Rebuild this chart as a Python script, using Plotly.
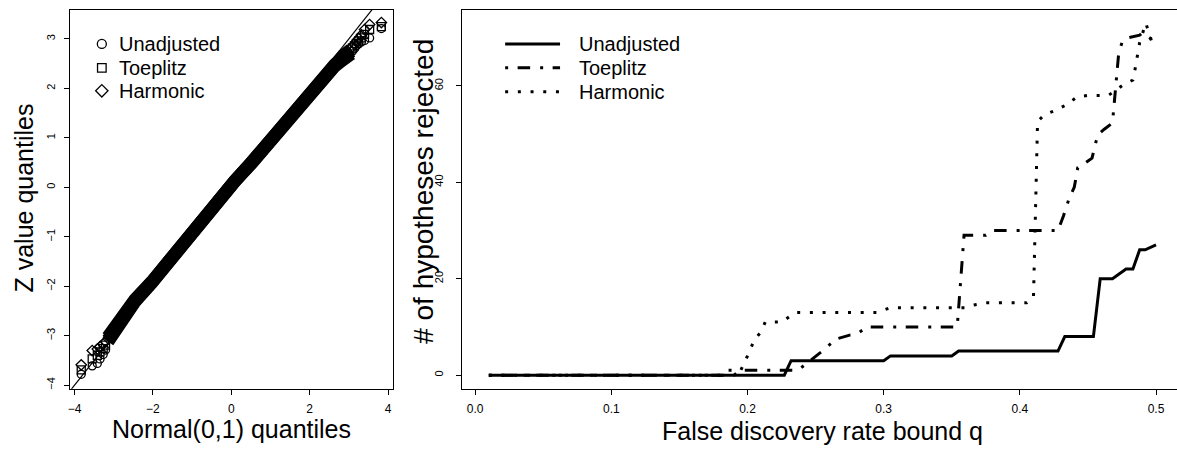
import plotly.graph_objects as go

W, H = 1177, 450
FONT = "Liberation Sans, Arial, Helvetica, sans-serif"

# ---------------- Left panel: QQ plot data ----------------
ref_line = [-4.3, 4.3]  # y = x reference line

band_q = [-3.15, -2.88, -2.46, -2.03, -1.60, -1.18, -0.76, -0.33, 0.09, 0.52,
          0.94, 1.37, 1.79, 2.22, 2.64, 2.85, 3.06]
band_unadj = [-3.12, -2.78, -2.31, -1.93, -1.50, -1.06, -0.65, -0.28, 0.12, 0.49,
              0.89, 1.30, 1.72, 2.12, 2.45, 2.58, 2.70]
band_toep = [-3.08, -2.76, -2.29, -1.92, -1.49, -1.05, -0.645, -0.28, 0.13, 0.50,
             0.90, 1.31, 1.74, 2.14, 2.48, 2.62, 2.75]
band_harm = [-3.03, -2.72, -2.27, -1.91, -1.48, -1.04, -0.64, -0.27, 0.13, 0.51,
             0.91, 1.32, 1.75, 2.16, 2.51, 2.66, 2.79]

tail_lo_q = [-3.83, -3.55, -3.42, -3.35, -3.27, -3.21]
lo_unadj = [-3.78, -3.61, -3.56, -3.47, -3.38, -3.29]
lo_toep = [-3.69, -3.47, -3.40, -3.33, -3.26, -3.19]
lo_harm = [-3.59, -3.30, -3.27, -3.22, -3.17, -3.12]

tail_hi_q = [3.09, 3.14, 3.19, 3.25, 3.32, 3.40, 3.53, 3.83]
hi_unadj = [2.75, 2.80, 2.86, 2.90, 2.94, 2.97, 3.02, 3.21]
hi_toep = [2.82, 2.86, 2.91, 2.96, 3.02, 3.09, 3.19, 3.25]
hi_harm = [2.84, 2.89, 2.95, 3.01, 3.08, 3.19, 3.29, 3.33]

left_xticks = [-4, -2, 0, 2, 4]
left_yticks = [-4, -3, -2, -1, 0, 1, 2, 3]

# ---------------- Right panel: rejections vs FDR bound ----
q_unadj = [0.01, 0.227, 0.232, 0.300, 0.305, 0.350, 0.355, 0.428, 0.433, 0.454,
           0.459, 0.468, 0.478, 0.483, 0.488, 0.492, 0.500]
n_unadj = [0, 0, 3, 3, 4, 4, 5, 5, 8, 8, 20, 20, 22, 22, 26, 26, 27]

q_toep = [0.01, 0.190, 0.195, 0.237, 0.255, 0.265, 0.275, 0.280, 0.288, 0.354,
          0.359, 0.375, 0.380, 0.428, 0.432, 0.436, 0.440, 0.4425, 0.448, 0.453,
          0.456, 0.458, 0.462, 0.468, 0.4695, 0.4725, 0.475, 0.480, 0.488, 0.490,
          0.500]
n_toep = [0, 0, 1, 1, 5, 7.5, 8.3, 8.5, 10, 10,
          29, 29, 30, 30, 33, 36.5, 39, 43, 44, 45,
          48.5, 50, 51, 52.3, 57, 66.5, 69, 70, 70.5, 71,
          69]

q_harm = [0.01, 0.180, 0.185, 0.195, 0.200, 0.205, 0.210, 0.213, 0.225, 0.235,
          0.295, 0.300, 0.305, 0.360, 0.365, 0.375, 0.405, 0.410, 0.413, 0.418,
          0.427, 0.435, 0.442, 0.450, 0.465, 0.475, 0.483, 0.484, 0.488, 0.4925,
          0.497, 0.500]
n_harm = [0, 0, 1, 1, 4, 7.3, 9, 11, 11, 13,
          13, 13.5, 14, 14, 14.5, 15, 15, 16, 52.6, 54,
          55, 56.2, 57.7, 58, 58, 60, 61.2, 62.5, 69, 73,
          69, 69]

right_xticks = [0.0, 0.1, 0.2, 0.3, 0.4, 0.5]
right_xticktext = ["0.0", "0.1", "0.2", "0.3", "0.4", "0.5"]
right_yticks = [0, 20, 40, 60]

series_names = ["Unadjusted", "Toeplitz", "Harmonic"]


def px(xp):
    return xp / W


def py(yp):
    return 1 - yp / H


fig = go.Figure()

# ---- left panel traces ----
fig.add_trace(go.Scatter(x=ref_line, y=ref_line, mode="lines",
                         line=dict(color="black", width=1.2),
                         xaxis="x", yaxis="y", showlegend=False, hoverinfo="skip"))
for band in (band_unadj, band_toep, band_harm):
    fig.add_trace(go.Scatter(x=band_q, y=band, mode="lines",
                             line=dict(color="black", width=13),
                             xaxis="x", yaxis="y", showlegend=False, hoverinfo="skip"))
symbols = ["circle-open", "square-open", "diamond-open"]
for lo, hi, sym, name in zip((lo_unadj, lo_toep, lo_harm), (hi_unadj, hi_toep, hi_harm),
                             symbols, series_names):
    fig.add_trace(go.Scatter(x=tail_lo_q + tail_hi_q, y=lo + hi, mode="markers",
                             marker=dict(symbol=sym, size=8, color="black",
                                         line=dict(width=1.3, color="black")),
                             xaxis="x", yaxis="y", name=name, showlegend=False))

# ---- right panel traces ----
dashes = ["solid", "3px,9.5px,12.5px,10px", "3px,9.7px"]
for qx, ny, name, d in zip((q_unadj, q_toep, q_harm), (n_unadj, n_toep, n_harm),
                           series_names, dashes):
    fig.add_trace(go.Scatter(x=qx, y=ny, mode="lines", name=name,
                             line=dict(color="black", width=3, dash=d),
                             xaxis="x2", yaxis="y2", showlegend=False))

axis_common = dict(showgrid=False, zeroline=False, showline=True, linecolor="black",
                   linewidth=1.3, ticks="outside", ticklen=5, tickwidth=1.2,
                   tickcolor="black", tickfont=dict(family=FONT, size=12, color="black"))

ydom = [py(389.5), py(10)]
fig.update_layout(
    width=W, height=H,
    margin=dict(l=0, r=0, t=0, b=0),
    paper_bgcolor="white", plot_bgcolor="white",
    showlegend=False,
    xaxis=dict(domain=[px(68), px(392)], range=[-4.1197, 4.135], tickvals=left_xticks,
               mirror=True, anchor="y", ticklabelstandoff=4, **axis_common),
    yaxis=dict(domain=ydom, range=[-4.0706, 3.585], tickvals=left_yticks, tickangle=-90,
               mirror=True, anchor="x", ticklabelstandoff=4, **axis_common),
    xaxis2=dict(domain=[px(461), 1.0], range=[-0.00953, 0.5154], tickvals=right_xticks,
                ticktext=right_xticktext, mirror=True, anchor="y2", ticklabelstandoff=4,
                **axis_common),
    yaxis2=dict(domain=ydom, range=[-2.793, 75.72], tickvals=right_yticks, tickangle=-90,
                mirror=False, anchor="x2", ticklabelstandoff=9, **axis_common),
)
fig.update_yaxes(tickfont=dict(size=11))

annotations = []
# axis titles
for text, xp, yp, ang, fs in [("Normal(0,1) quantiles", 230, 430, 0, 25),
                              ("Z value quantiles", 22, 198, -90, 25),
                              ("False discovery rate bound q", 822, 432, 0, 25),
                              ("# of hypotheses rejected", 422, 192, -90, 28)]:
    annotations.append(dict(text=text, x=px(xp), y=py(yp), xref="paper", yref="paper",
                            xanchor="center", yanchor="middle", showarrow=False,
                            textangle=ang, font=dict(family=FONT, size=fs, color="black")))

# legends
left_rows = [44, 68, 91]
right_rows = [44, 68, 92]
for name, yr in zip(series_names, left_rows):
    annotations.append(dict(text=name, x=px(115.5), y=py(yr), xref="paper", yref="paper",
                            xanchor="left", yanchor="middle", showarrow=False,
                            font=dict(family=FONT, size=20, color="black")))
for name, yr in zip(series_names, right_rows):
    annotations.append(dict(text=name, x=px(575.5), y=py(yr), xref="paper", yref="paper",
                            xanchor="left", yanchor="middle", showarrow=False,
                            font=dict(family=FONT, size=20, color="black")))

shapes = []
# left legend symbols
cx = 100
r = 4.5
shapes.append(dict(type="circle", xref="paper", yref="paper",
                   x0=px(cx - r), x1=px(cx + r), y0=py(left_rows[0] + r), y1=py(left_rows[0] - r),
                   line=dict(color="black", width=1.3)))
s = 4.3
shapes.append(dict(type="rect", xref="paper", yref="paper",
                   x0=px(cx - s), x1=px(cx + s), y0=py(left_rows[1] + s), y1=py(left_rows[1] - s),
                   line=dict(color="black", width=1.3)))
d = 6.2
yc = left_rows[2]
path = "M {:.5f},{:.5f} L {:.5f},{:.5f} L {:.5f},{:.5f} L {:.5f},{:.5f} Z".format(
    px(cx), py(yc - d), px(cx + d), py(yc), px(cx), py(yc + d), px(cx - d), py(yc))
shapes.append(dict(type="path", xref="paper", yref="paper", path=path,
                   line=dict(color="black", width=1.3)))
# right legend line samples
for yr, dsh in zip(right_rows, dashes):
    shapes.append(dict(type="line", xref="paper", yref="paper",
                       x0=px(504), x1=px(559), y0=py(yr), y1=py(yr),
                       line=dict(color="black", width=3, dash=dsh)))

fig.update_layout(annotations=annotations, shapes=shapes)

fig.write_html("out.html")
